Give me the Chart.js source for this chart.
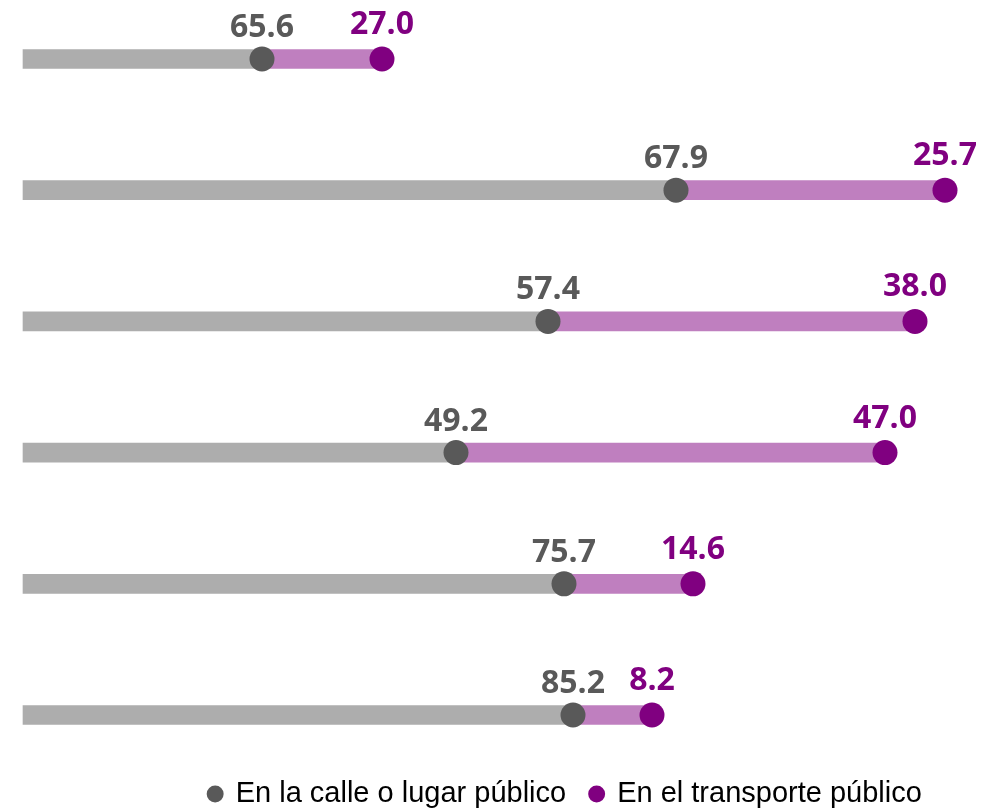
<!DOCTYPE html>
<html>
<head>
<meta charset="utf-8">
<script src="https://cdn.jsdelivr.net/npm/chart.js@4.4.0/dist/chart.umd.min.js"></script>
<style>
  html,body{margin:0;padding:0;background:#fff;}
</style>
</head>
<body>
<canvas id="myChart" width="1004" height="810"></canvas>
<script>
// filas (el original no muestra el nombre de cada fila)
let categories=["Fila 1","Fila 2","Fila 3","Fila 4","Fila 5","Fila 6"];
// largo de la barra hasta el punto gris y hasta el punto morado (unidades del eje x)
let calleEnd=[239,653,525,433,541,550];
let transporteEnd=[359,922,892,862,670,629];
// porcentajes escritos sobre los puntos
let callePct=["65.6","67.9","57.4","49.2","75.7","85.2"];
let transportePct=["27.0","25.7","38.0","47.0","14.6","8.2"];
let seriesNames=["En la calle o lugar público","En el transporte público"];
let xMax=967;

let transporteBar=[];
for(let i=0;i<calleEnd.length;i++){
    transporteBar.push([calleEnd[i],transporteEnd[i]]);
}

// textos encima de cada punto
const pointLabels={
    id:"pointLabels",
    afterDatasetsDraw(chart){
        const ctx=chart.ctx;
        ctx.save();
        ctx.font="bold 32px 'Open Sans'";
        ctx.textAlign="center";
        ctx.textBaseline="alphabetic";
        [[0,callePct,"#595959",22],[1,transportePct,"#800080",25]].forEach(function(s){
            chart.getDatasetMeta(s[0]).data.forEach(function(pt,i){
                ctx.fillStyle=s[2];
                ctx.fillText(s[1][i],pt.x,pt.y-s[3]);
            });
        });
        ctx.restore();
    }
};

// la leyenda del original queda mas abajo y corrida a la derecha
const legendShift={
    id:"legendShift",
    afterLayout(chart){
        const lg=chart.legend;
        lg.left+=59; lg.right+=59;
        lg.top+=40; lg.bottom+=40;
    }
};

const ctx=document.getElementById("myChart").getContext("2d");
const myChart=new Chart(ctx,{
    type:"bar",
    data:{
        labels:categories,
        datasets:[{
            type:"line",
            label:seriesNames[0],
            data:calleEnd,
            indexAxis:"y",
            showLine:false,
            backgroundColor:"#595959",
            borderColor:"#595959",
            borderWidth:0,
            pointRadius:12.5,
            pointHoverRadius:12.5,
            pointBorderWidth:0,
            clip:false,
            order:0
        },{
            type:"line",
            label:seriesNames[1],
            data:transporteEnd,
            indexAxis:"y",
            showLine:false,
            backgroundColor:"#800080",
            borderColor:"#800080",
            borderWidth:0,
            pointRadius:12.5,
            pointHoverRadius:12.5,
            pointBorderWidth:0,
            clip:false,
            order:0
        },{
            label:"calle barra",
            data:calleEnd,
            backgroundColor:"#ADADAD",
            barThickness:19,
            grouped:false,
            clip:false,
            order:2
        },{
            label:"transporte barra",
            data:transporteBar,
            backgroundColor:"#BF7FBF",
            barThickness:19,
            grouped:false,
            clip:false,
            order:1
        }]
    },
    options:{
        indexAxis:"y",
        responsive:false,
        animation:false,
        devicePixelRatio:1,
        layout:{padding:{left:23,right:14,top:59,bottom:31.5}},
        scales:{
            x:{display:false,min:0,max:xMax},
            y:{display:false,offset:false}
        },
        plugins:{
            legend:{
                position:"bottom",
                labels:{
                    usePointStyle:true,
                    boxWidth:12,
                    boxHeight:12,
                    padding:24.5,
                    color:"#000",
                    font:{family:"'Liberation Sans', Arial",size:29},
                    filter:function(item){return item.datasetIndex<2;}
                }
            },
            tooltip:{enabled:true}
        }
    },
    plugins:[pointLabels,legendShift]
});
</script>
</body>
</html>
